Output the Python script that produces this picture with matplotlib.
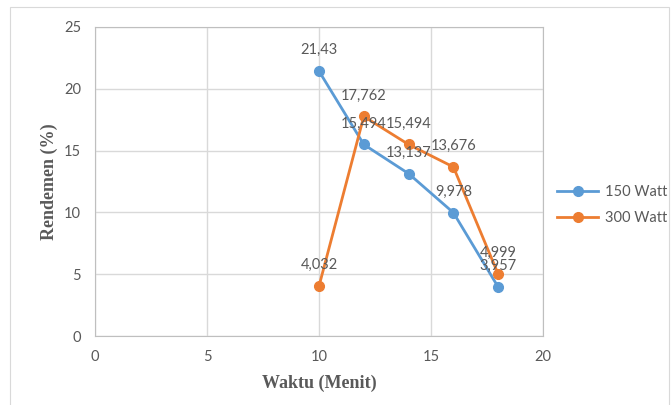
import matplotlib.pyplot as plt
from matplotlib.patches import Rectangle

# data
waktu = [10, 12, 14, 16, 18]
watt150 = [21.43, 15.494, 13.137, 9.978, 3.957]
watt300 = [4.032, 17.762, 15.494, 13.676, 4.999]
series_names = ["150 Watt", "300 Watt"]

BLUE = "#5B9BD5"
ORANGE = "#ED7D31"
GRAY_TXT = "#595959"
GRID = "#D9D9D9"
FONT = "Lato"

def fmt(v):
    return f"{v:g}".replace(".", ",")

fig = plt.figure(figsize=(6.71, 4.05), dpi=100)
ax = fig.add_axes([95 / 671, 69 / 405, 448 / 671, 309 / 405])

# outer chart border
fig.patches.append(Rectangle((10 / 671, -0.05), 659 / 671, 1.05 - 7 / 405,
                             transform=fig.transFigure, fill=False,
                             edgecolor=GRID, linewidth=0.8))

for vals, col, name in [(watt150, BLUE, series_names[0]), (watt300, ORANGE, series_names[1])]:
    ax.plot(waktu, vals, color=col, linewidth=2, marker="o", markersize=7, label=name, zorder=3)
    for x, y in zip(waktu, vals):
        ax.annotate(fmt(y), (x, y), xytext=(0, 15), textcoords="offset points",
                    ha="center", va="center", fontsize=10.5, color=GRAY_TXT,
                    family=FONT, zorder=4)

ax.set_xlim(0, 20)
ax.set_ylim(0, 25)
ax.set_xticks(range(0, 21, 5))
ax.set_yticks(range(0, 26, 5))
ax.grid(True, color=GRID, linewidth=1)
ax.set_axisbelow(True)
for s in ax.spines.values():
    s.set_color("#BFBFBF")
ax.tick_params(length=0, colors=GRAY_TXT, labelsize=10.5, pad=10)
for lab in ax.get_xticklabels() + ax.get_yticklabels():
    lab.set_family(FONT)

ax.set_xlabel("Waktu (Menit)", family="Liberation Serif", fontweight="bold",
              fontsize=13, color=GRAY_TXT, labelpad=8)
ax.set_ylabel("Rendemen (%)", family="Liberation Serif", fontweight="bold",
              fontsize=13, color=GRAY_TXT, labelpad=4)

leg = fig.legend(loc="center left", bbox_to_anchor=(544 / 671, 1 - 205 / 405),
                 frameon=False, prop={"family": FONT, "size": 10.5},
                 labelcolor=GRAY_TXT, handlelength=2.8, handletextpad=0.5,
                 labelspacing=0.8)

fig.savefig("out.png", dpi=100)
